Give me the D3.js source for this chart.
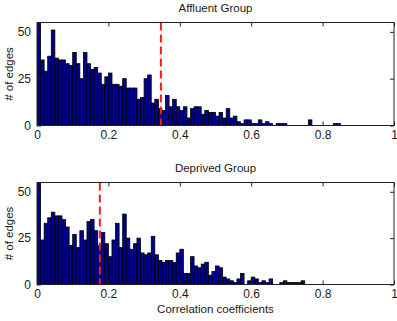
<!DOCTYPE html>
<html>
<head>
<meta charset="utf-8">
<script src="https://cdn.jsdelivr.net/npm/d3@7"></script>
<style>
  html, body { margin: 0; padding: 0; background: #fff; }
  svg { display: block; }
  text { font-family: "Liberation Sans", Arial, Helvetica, sans-serif; fill: #1a1a1a; }
</style>
</head>
<body>
<svg id="chart" width="397" height="321"></svg>
<script>
// ---- data ----
const binWidth = 0.01;
const affluentCounts = [55,35,29,37,51,36,35,35,33,32,39,33,25,39,33,30,31,28,22,26,
  28,22,22,21,25,20,20,20,14,15,25,27,12,14,9,8,16,10,14,10,
  8,10,4,9,10,10,6,8,7,7,5,7,4,9,4,5,2,1,3,3,
  1,1,3,1,2,1,0,1,1,1,0,0,0,0,0,0,3,0,0,0,
  0,0,0,1,1];
const deprivedCounts = [55,24,33,36,39,37,37,35,31,21,27,20,29,24,34,35,29,21,28,22,
  15,24,33,20,38,25,19,22,25,17,16,17,26,16,13,12,13,13,12,17,
  19,6,6,15,10,9,11,12,5,7,10,9,4,3,2,1,3,6,0,2,
  4,3,1,2,1,3,0,0,1,2,1,1,1,1,2];
const affluentThreshold = 0.347;
const deprivedThreshold = 0.176;
const panelTitles = ["Affluent Group", "Deprived Group"];
const xTicks = [0, 0.2, 0.4, 0.6, 0.8, 1];
const xTickLabels = ["0", "0.2", "0.4", "0.6", "0.8", "1"];
const yTicks = [0, 25, 50];
const yTickLabels = ["0", "25", "50"];
const yMax = 55;
const yLabel = "# of edges";
const xLabel = "Correlation coefficients";

// ---- layout ----
const svg = d3.select("#chart");
const left = 37, right = 394;
const panels = [
  { counts: affluentCounts, thr: affluentThreshold, title: panelTitles[0], top: 22.5, bottom: 125.5 },
  { counts: deprivedCounts, thr: deprivedThreshold, title: panelTitles[1], top: 182.5, bottom: 284.5 }
];

const x = d3.scaleLinear().domain([0, 1]).range([left, right]);

panels.forEach((p, pi) => {
  const y = d3.scaleLinear().domain([0, yMax]).range([p.bottom, p.top]);
  const g = svg.append("g");

  // clip to axes
  const clipId = "clip" + pi;
  svg.append("clipPath").attr("id", clipId)
    .append("rect").attr("x", left).attr("y", p.top).attr("width", right - left).attr("height", p.bottom - p.top);

  // bars
  g.append("g").attr("clip-path", `url(#${clipId})`)
    .selectAll("rect").data(p.counts).join("rect")
    .attr("x", (d, i) => x(i * binWidth))
    .attr("width", x(binWidth) - x(0))
    .attr("y", d => y(d))
    .attr("height", d => y(0) - y(d))
    .attr("fill", "#00008f")
    .attr("stroke", "#000")
    .attr("stroke-width", 0.8);

  // threshold line
  g.append("line")
    .attr("x1", x(p.thr)).attr("x2", x(p.thr))
    .attr("y1", p.top).attr("y2", p.bottom)
    .attr("stroke", "#ff1a1a").attr("stroke-width", 2)
    .attr("stroke-dasharray", "8,4");

  // axes
  const ax = g.append("g").attr("transform", `translate(0,${p.bottom})`)
    .call(d3.axisBottom(x).tickValues(xTicks).tickSize(-4).tickPadding(5)
      .tickFormat((d, i) => xTickLabels[i]));
  const axT = g.append("g").attr("transform", `translate(0,${p.top})`)
    .call(d3.axisTop(x).tickValues(xTicks).tickSize(-4).tickFormat(""));
  const ayL = g.append("g").attr("transform", `translate(${left},0)`)
    .call(d3.axisLeft(y).tickValues(yTicks).tickSize(-4).tickPadding(6)
      .tickFormat((d, i) => yTickLabels[i]));
  const ayR = g.append("g").attr("transform", `translate(${right},0)`)
    .call(d3.axisRight(y).tickValues(yTicks).tickSize(-4).tickFormat(""));
  [ax, axT, ayL, ayR].forEach(a => {
    a.select(".domain").remove();
    a.selectAll(".tick line").attr("stroke", "#222");
    a.selectAll("text").attr("font-size", 12).attr("fill", "#1a1a1a")
      .attr("font-family", "'Liberation Sans', Arial, sans-serif");
  });

  // frame
  g.append("rect")
    .attr("x", left).attr("y", p.top)
    .attr("width", right - left).attr("height", p.bottom - p.top)
    .attr("fill", "none").attr("stroke", "#222").attr("stroke-width", 1);

  // title
  g.append("text")
    .attr("x", (left + right) / 2).attr("y", p.top - 11)
    .attr("text-anchor", "middle").attr("font-size", 11.5)
    .text(p.title);

  // y label
  g.append("text")
    .attr("transform", `translate(13,${(p.top + p.bottom) / 2}) rotate(-90)`)
    .attr("text-anchor", "middle").attr("font-size", 11.5)
    .text(yLabel);
});

svg.append("text")
  .attr("x", (left + right) / 2).attr("y", 313)
  .attr("text-anchor", "middle").attr("font-size", 11.5)
  .text(xLabel);
</script>
</body>
</html>
